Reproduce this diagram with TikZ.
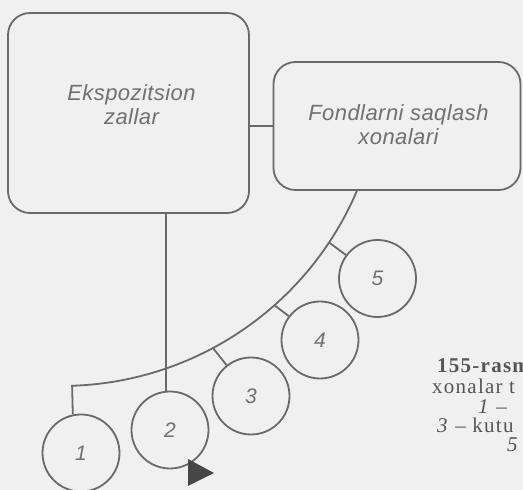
\documentclass[tikz,border=0pt]{standalone}
\usepackage{fontspec}
\setmainfont{Liberation Serif}
\setsansfont{Liberation Sans}
\definecolor{bgc}{RGB}{240,240,240}
\definecolor{linec}{RGB}{105,105,105}
\definecolor{labc}{RGB}{112,112,112}
\definecolor{capc}{RGB}{85,85,85}
\definecolor{tric}{RGB}{70,70,70}
\begin{document}
\begin{tikzpicture}[x=1pt,y=1pt,
  lc/.style={draw=linec, line width=1.8pt},
  roombox/.style={lc, rounded corners=22pt, inner sep=0pt},
  room/.style={lc, circle, minimum size=77pt, inner sep=0pt, font=\sffamily\itshape\fontsize{21}{24}\selectfont, text=labc},
  boxtext/.style={align=center, font=\sffamily\itshape\fontsize{22}{24}\selectfont\addfontfeatures{LetterSpace=2}, text=labc, inner sep=0pt, anchor=base},
  captext/.style={anchor=base west, inner sep=0pt, text=capc, font=\fontsize{21}{21}\selectfont\addfontfeatures{LetterSpace=6}}]
\fill[bgc] (0,0) rectangle (523,490);
\useasboundingbox (0,0) rectangle (523,490);

% boxes
\node[roombox, minimum width=241pt, minimum height=200pt] (b1) at (128.5,377) {};
\node[roombox, minimum width=247pt, minimum height=128pt] (b2) at (397,364) {};
\node[boxtext] (t1) at (131.5,365) {Ekspozitsion\\zallar};
\node[boxtext] (t2) at (398.5,345) {Fondlarni saqlash\\xonalari};

% circles
\node[room] (c1) at (81,37) {1};
\node[room] (c2) at (170,60) {2};
\node[room] (c3) at (251,94) {3};
\node[room] (c4) at (320,150) {4};
\node[room] (c5) at (377.5,211.5) {5};

% connectors
\draw[lc] (b2.west -| b1.east) -- (b2.west);
\draw[lc] (b1.south -| c2.96) -- (c2.96);
\coordinate (ac) at (62.5,426);
\draw[lc] (b2.south west) ++(84.3,0) arc[start angle=-23.1, end angle=-88.13, radius=321] -- (c1.102);
\path (ac) ++(-33.8:321) coordinate (s5);
\path (ac) ++(-48.7:321) coordinate (s4);
\path (ac) ++(-62.1:321) coordinate (s3);
\draw[lc] (s5) -- (c5);
\draw[lc] (s4) -- (c4);
\draw[lc] (s3) -- (c3);

% marker triangle
\fill[tric] (188,31) -- (188,4) -- (214,17) -- cycle;

% caption (cut at the right edge)
\begin{scope}
\clip (0,0) rectangle (523,490);
\node[captext, font=\bfseries\fontsize{21}{21}\selectfont\addfontfeatures{LetterSpace=6}] (k1) at (437,117) {155-rasm};
\node[captext] (k2) at (432,96) {xonalar t};
\node[captext] (k3) at (478,76) {\textit{1} –};
\node[captext] (k4) at (437,57) {\textit{3} – kutu};
\node[captext] (k5) at (507,38) {\textit{5}};
\end{scope}
\end{tikzpicture}
\end{document}
